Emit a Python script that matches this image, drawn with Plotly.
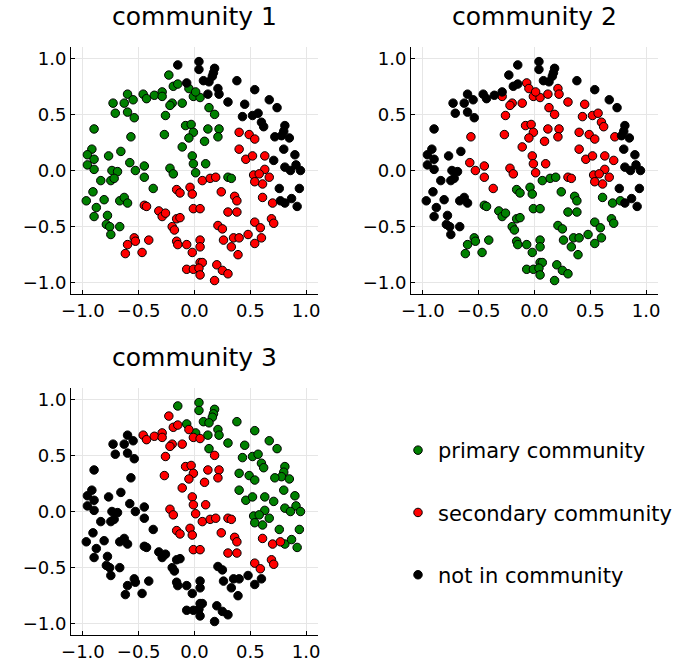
import plotly.graph_objects as go

x_vals = [
    -0.15, -0.23, -0.19, -0.15, -0.07, -0.05, -0.01, 0.05, 0.01, -0.73,
    -0.60, -0.63, -0.55, -0.46, -0.43, -0.36, -0.29, -0.29, -0.20, -0.22,
    -0.11, -0.71, -0.60, -0.54, -0.26, -0.90, -0.57, -0.27, -0.08, -0.03,
    -0.01, -0.05, -0.11, -0.92, -0.96, -0.90, -0.77, -0.66, -0.58, -0.96,
    -0.90, -0.74, -0.69, -0.53, -0.45, -0.22, -0.19, -0.02, -0.01, 0.01,
    -0.45, -0.84, -0.75, -0.72, -0.91, -0.97, -0.81, -0.67, -0.63, -0.60,
    -0.88, -0.90, -0.78, -0.79, -0.76, -0.67, -0.75, -0.37, -0.45, -0.43,
    -0.32, -0.29, -0.26, -0.16, -0.13, -0.04, -0.02, -0.01, 0.05, -0.16,
    -0.13, -0.20, -0.18, -0.54, -0.53, -0.60, -0.41, -0.62, -0.47, -0.16,
    -0.15, -0.07, -0.02, -0.07, -0.01, 0.04, 0.04, 0.18, 0.17, 0.16,
    0.08, 0.13, 0.38, 0.21, 0.22, 0.12, 0.54, 0.30, 0.67, 0.74,
    0.45, 0.43, 0.52, 0.57, 0.60, 0.62, 0.81, 0.80, 0.78, 0.85,
    0.72, 0.80, 0.71, 0.90, 0.81, 0.91, 0.95, 0.86, 0.13, 0.18,
    0.12, 0.22, 0.21, 0.09, 0.10, 0.40, 0.49, 0.54, 0.40, 0.46,
    0.52, 0.63, 0.63, 0.30, 0.33, 0.07, 0.14, 0.19, 0.24, 0.36,
    0.38, 0.30, 0.38, 0.53, 0.58, 0.67, 0.61, 0.54, 0.61, 0.70,
    0.76, 0.94, 0.77, 0.81, 0.87, 0.92, 0.54, 0.59, 0.69, 0.71,
    0.21, 0.25, 0.48, 0.60, 0.54, 0.35, 0.40, 0.26, 0.33, 0.39,
    0.05, 0.05, 0.20, 0.25, 0.30, 0.05, 0.07, 0.04, 0.05, 0.18,
]
y_vals = [
    0.94, 0.85, 0.75, 0.77, 0.78, 0.73, 0.66, 0.65, 0.70, 0.60,
    0.68, 0.60, 0.63, 0.68, 0.64, 0.67, 0.70, 0.66, 0.60, 0.58,
    0.60, 0.51, 0.52, 0.47, 0.49, 0.37, 0.30, 0.32, 0.40, 0.41,
    0.34, 0.29, 0.21, 0.19, 0.14, 0.10, 0.13, 0.17, 0.07, 0.05,
    0.01, 0.00, -0.01, 0.00, 0.04, 0.02, -0.03, 0.13, 0.06, -0.02,
    -0.06, -0.09, -0.09, -0.07, -0.19, -0.27, -0.26, -0.27, -0.24, -0.29,
    -0.33, -0.41, -0.40, -0.48, -0.50, -0.50, -0.57, -0.16, -0.31, -0.32,
    -0.36, -0.41, -0.38, -0.17, -0.20, -0.15, -0.21, -0.34, -0.34, -0.43,
    -0.42, -0.50, -0.53, -0.60, -0.63, -0.66, -0.62, -0.74, -0.73, -0.63,
    -0.66, -0.66, -0.73, -0.88, -0.88, 0.97, 0.90, 0.91, 0.87, 0.84,
    0.80, 0.79, 0.80, 0.73, 0.68, 0.68, 0.72, 0.61, 0.63, 0.56,
    0.59, 0.48, 0.49, 0.51, 0.43, 0.39, 0.40, 0.35, 0.31, 0.29,
    0.30, 0.19, 0.09, 0.14, 0.03, 0.05, 0.00, 0.00, 0.56, 0.50,
    0.37, 0.37, 0.30, 0.26, 0.06, 0.34, 0.32, 0.28, 0.19, 0.10,
    0.13, 0.13, 0.01, -0.06, -0.07, -0.09, -0.07, -0.06, -0.19, -0.23,
    -0.27, -0.37, -0.37, -0.04, -0.03, -0.06, -0.12, -0.10, -0.24, -0.29,
    -0.16, -0.16, -0.27, -0.29, -0.25, -0.32, -0.46, -0.51, -0.43, -0.47,
    -0.49, -0.52, -0.57, -0.60, -0.65, -0.60, -0.60, -0.62, -0.68, -0.75,
    -0.62, -0.68, -0.84, -0.89, -0.92, -0.82, -0.82, -0.87, -0.93, -0.98,
]
# membership per point: P = primary, S = secondary, N = not in community
comm1 = ("NPPPNPPPPP" "PPPPPPPPPP" "PPPPPPPPPP" "PPPPPPPPPP" "PPPPPPPPPP"
         "PPPPPPPPPP" "PPPPPPPPSS" "SSSSSSSSSS" "SSSSSSSSSS" "SSSSSNNNNN"
         "NNNNNNNNNN" "NNNNNNNNNN" "NNNNNNNNPP" "PPPPPSSSSS" "SSSPPSSSSS"
         "SSSSSSSSSS" "NNNNNNSSSS" "SSSSSSSSSS" "SSSSSSSSSS")
comm2 = ("NNNNSSSSSN" "NNNNNNNSSS" "SNNNSNSSSS" "SSSNNNNNSN" "NNNSSSSSSS"
         "SNNNNNNNNN" "NNNNNNNSPP" "PPPPPPPPPP" "PPPPPPPPPP" "PPPPPNNNNN"
         "NNNSSSNSNN" "SSSSSSNNNN" "SNSNNNNNSS" "SSSSSSSSSS" "SSSSSPPPPP"
         "PPPSSSSSPP" "NNPNNNPPPP" "PPPPPPPPPP" "PPPPPPPPPP")
comm3 = ("PSSSPSSSPN" "NNNSSSSSSS" "SNNNSNNSSS" "SSSNNNNNNN" "NNNNNSSSSS"
         "NNNNNNNNNN" "NNNNNNNNNN" "NNNSSSSSSN" "NNNNNNNNNN" "NNNNNPPPPP"
         "PPPPPPPPPP" "PPPPPPPPPP" "PPPPPPPPPS" "SSSSSPPPPP" "PPPSSSSSSS"
         "SSSPPPPPSS" "PPSPPPSSSS" "NNNNNNNNNN" "NNNNNNNNNN")

codes = ["P", "S", "N"]
names = ["primary community", "secondary community", "not in community"]
colors = ["#008000", "#ff0000", "#000000"]
titles = ["community 1", "community 2", "community 3"]
tick_vals = [-1.0, -0.5, 0.0, 0.5, 1.0]
tick_text = ["\u22121.0", "\u22120.5", "0.0", "0.5", "1.0"]

W, H = 678, 668
FONT = "DejaVu Sans"

def px_dom(a, b, total):
    return [a / total, b / total]

def py_dom(top, bottom):
    return [1 - bottom / H, 1 - top / H]

panels = [
    dict(xd=px_dom(71, 318, W), yd=py_dom(47, 294)),
    dict(xd=px_dom(411, 658, W), yd=py_dom(47, 294)),
    dict(xd=px_dom(71, 318, W), yd=py_dom(388, 635)),
]

fig = go.Figure()
memberships = [comm1, comm2, comm3]
for p, memb in enumerate(memberships):
    xa = "x" if p == 0 else f"x{p+1}"
    ya = "y" if p == 0 else f"y{p+1}"
    for code, name, col in zip(codes, names, colors):
        xs = [x for x, m in zip(x_vals, memb) if m == code]
        ys = [y for y, m in zip(y_vals, memb) if m == code]
        fig.add_trace(go.Scatter(
            x=xs, y=ys, mode="markers", name=name,
            legendgroup=name, showlegend=(p == 0),
            marker=dict(color=col, size=8.5, line=dict(color="black", width=1)),
            xaxis=xa, yaxis=ya, hoverinfo="skip",
        ))

layout = dict(
    width=W, height=H, margin=dict(l=0, r=0, t=0, b=0, autoexpand=False),
    paper_bgcolor="white", plot_bgcolor="white",
    font=dict(family=FONT, size=18, color="black"),
    showlegend=True,
    legend=dict(x=398 / W, xanchor="left", y=1 - 430 / H, yanchor="top",
                font=dict(family=FONT, size=21, color="black"),
                tracegroupgap=32, traceorder="grouped",
                bgcolor="rgba(0,0,0,0)", borderwidth=0),
    annotations=[],
)
for i, pn in enumerate(panels):
    sx = "" if i == 0 else str(i + 1)
    axis_common = dict(
        tickvals=tick_vals, ticktext=tick_text, showgrid=True,
        gridcolor="#e6e6e6", gridwidth=1, zeroline=False,
        showline=True, linecolor="black", linewidth=1, mirror=False,
        ticks="inside", ticklen=4, tickcolor="black", tickwidth=1,
        tickfont=dict(family=FONT, size=18, color="black"),
        automargin=False,
    )
    layout["xaxis" + sx] = dict(axis_common, domain=pn["xd"], range=[-1.107, 1.107],
                                anchor="y" + sx)
    layout["yaxis" + sx] = dict(axis_common, domain=pn["yd"], range=[-1.10, 1.10],
                                anchor="x" + sx)
    layout["annotations"].append(dict(
        text=titles[i], xref=f"x{sx} domain", yref=f"y{sx} domain",
        x=0.5, y=1.0, xanchor="center", yanchor="bottom", yshift=14,
        showarrow=False, font=dict(family=FONT, size=25, color="black"),
    ))

fig.update_layout(**layout)
fig.write_html(
    "out.html",
    config={"displayModeBar": False},
    post_script="document.body.style.margin='0';document.body.style.padding='0';",
)
